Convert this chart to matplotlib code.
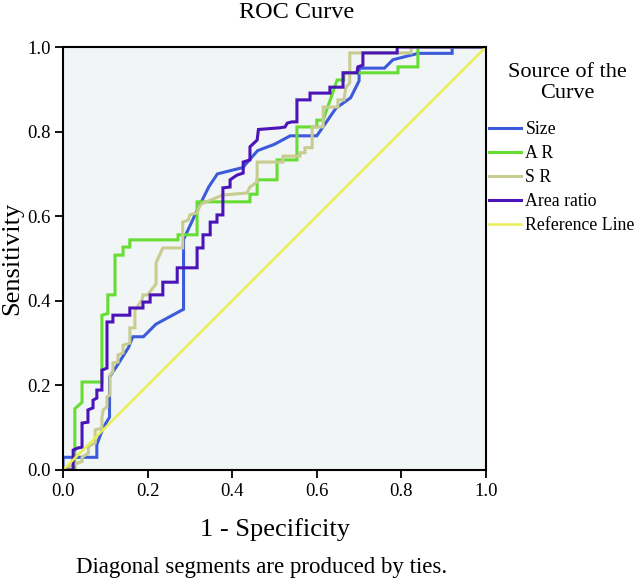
import matplotlib
matplotlib.use("Agg")
import matplotlib.pyplot as plt

plt.rcParams['font.family'] = ['Liberation Serif', 'DejaVu Serif']

# ---- data ----
size_pts = [(0, 0), (0, 0.03), (0.08, 0.03), (0.08, 0.06), (0.095, 0.10), (0.11, 0.125),
            (0.11, 0.22), (0.13, 0.25), (0.155, 0.29), (0.165, 0.315), (0.19, 0.315),
            (0.22, 0.345), (0.285, 0.38), (0.285, 0.545), (0.32, 0.62), (0.345, 0.67),
            (0.365, 0.70), (0.425, 0.715), (0.46, 0.755), (0.50, 0.77), (0.537, 0.79),
            (0.60, 0.79), (0.645, 0.855), (0.68, 0.88), (0.70, 0.92), (0.70, 0.95),
            (0.76, 0.95), (0.78, 0.97), (0.84, 0.985), (0.92, 0.985), (0.92, 1.0), (1.0, 1.0)]

ar_pts = [(0, 0), (0.028, 0), (0.028, 0.145), (0.045, 0.16), (0.045, 0.208), (0.092, 0.208),
          (0.092, 0.366), (0.106, 0.37), (0.106, 0.414), (0.123, 0.414), (0.123, 0.508),
          (0.142, 0.508), (0.142, 0.527), (0.158, 0.527), (0.158, 0.544), (0.272, 0.544),
          (0.272, 0.556), (0.317, 0.556), (0.317, 0.634), (0.442, 0.634), (0.442, 0.652),
          (0.459, 0.652), (0.459, 0.686), (0.506, 0.686), (0.506, 0.733), (0.553, 0.733),
          (0.553, 0.811), (0.60, 0.811), (0.60, 0.827), (0.615, 0.827), (0.648, 0.922),
          (0.664, 0.922), (0.664, 0.939), (0.792, 0.939), (0.792, 0.953), (0.839, 0.953),
          (0.839, 1.0), (1.0, 1.0)]

sr_pts = [(0, 0), (0.03, 0.015), (0.045, 0.02), (0.045, 0.03), (0.06, 0.04), (0.06, 0.055),
          (0.076, 0.064), (0.076, 0.095), (0.092, 0.099), (0.092, 0.123), (0.095, 0.142),
          (0.104, 0.149), (0.104, 0.173), (0.111, 0.177), (0.111, 0.225), (0.118, 0.232),
          (0.118, 0.253), (0.13, 0.255), (0.13, 0.272), (0.142, 0.277), (0.142, 0.295),
          (0.158, 0.30), (0.158, 0.336), (0.17, 0.336), (0.17, 0.378), (0.187, 0.402),
          (0.189, 0.414), (0.20, 0.414), (0.22, 0.44), (0.22, 0.49), (0.236, 0.525),
          (0.283, 0.525), (0.283, 0.586), (0.296, 0.591), (0.30, 0.603), (0.317, 0.608),
          (0.324, 0.626), (0.331, 0.631), (0.378, 0.65), (0.435, 0.655), (0.442, 0.669),
          (0.459, 0.681), (0.459, 0.728), (0.52, 0.728), (0.52, 0.742), (0.56, 0.742),
          (0.56, 0.75), (0.572, 0.75), (0.572, 0.762), (0.589, 0.762), (0.589, 0.811),
          (0.615, 0.811), (0.615, 0.858), (0.65, 0.858), (0.65, 0.875), (0.664, 0.875),
          (0.669, 0.905), (0.678, 0.915), (0.678, 0.986), (0.823, 0.986), (0.823, 1.0),
          (1.0, 1.0)]

area_pts = [(0, 0), (0.024, 0), (0.024, 0.047), (0.035, 0.052), (0.045, 0.054), (0.045, 0.111),
            (0.059, 0.113), (0.059, 0.142), (0.071, 0.147), (0.071, 0.165), (0.08, 0.17),
            (0.08, 0.189), (0.092, 0.189), (0.092, 0.236), (0.104, 0.241), (0.104, 0.35),
            (0.118, 0.35), (0.118, 0.366), (0.158, 0.366), (0.158, 0.383), (0.189, 0.383),
            (0.189, 0.397), (0.206, 0.397), (0.206, 0.414), (0.236, 0.414), (0.236, 0.444),
            (0.27, 0.444), (0.27, 0.478), (0.317, 0.478), (0.317, 0.525), (0.331, 0.525),
            (0.331, 0.556), (0.348, 0.556), (0.348, 0.586), (0.364, 0.586), (0.364, 0.603),
            (0.378, 0.603), (0.378, 0.667), (0.395, 0.669), (0.395, 0.686), (0.411, 0.697),
            (0.426, 0.702), (0.426, 0.728), (0.442, 0.733), (0.442, 0.764), (0.459, 0.78),
            (0.462, 0.805), (0.513, 0.809), (0.525, 0.811), (0.53, 0.82), (0.541, 0.823),
            (0.553, 0.823), (0.553, 0.875), (0.584, 0.875), (0.584, 0.891), (0.631, 0.891),
            (0.631, 0.905), (0.662, 0.905), (0.662, 0.939), (0.695, 0.939), (0.697, 0.953),
            (0.709, 0.957), (0.709, 0.986), (0.79, 0.986), (0.79, 1.0), (1.0, 1.0)]

ref_pts = [(0, 0), (1, 1)]

series_labels = ["Size", "A R", "S R", "Area ratio", "Reference Line"]
series_colors = ["#3B5BDB", "#66DD33", "#C8CC90", "#4A14B8", "#E8EE55"]
tick_values = [0.0, 0.2, 0.4, 0.6, 0.8, 1.0]
tick_labels = ["0.0", "0.2", "0.4", "0.6", "0.8", "1.0"]

# ---- figure ----
fig = plt.figure(figsize=(6.4, 5.79), dpi=100)
ax = fig.add_axes([63/640, 1-470/579, 423/640, 423/579])
ax.set_facecolor("#F1F5F5")

all_series = [size_pts, ar_pts, sr_pts, area_pts, ref_pts]
for pts, lab, col in zip(all_series, series_labels, series_colors):
    xs = [p[0] for p in pts]
    ys = [p[1] for p in pts]
    lw = 1.8 if lab == "Reference Line" else 2.2
    ax.plot(xs, ys, color=col, lw=lw, label=lab, solid_joinstyle='miter')

ax.set_xlim(0, 1)
ax.set_ylim(0, 1)
ax.set_xticks(tick_values)
ax.set_xticklabels(tick_labels)
ax.set_yticks(tick_values)
ax.set_yticklabels(tick_labels)
ax.tick_params(direction='out', length=6, width=1.3, color='black',
               labelsize=13.5, pad=3)
for sp in ax.spines.values():
    sp.set_linewidth(1.5)
    sp.set_color('black')

fig.text(297/640, 1-12/579, "ROC Curve", ha='center', va='center', fontsize=17.5)
fig.text(275/640, 1-530/579, "1 - Specificity", ha='center', va='center', fontsize=19)
fig.text(12/640, 1-258/579, "Sensitivity", ha='center', va='center', rotation=90, fontsize=19)
fig.text(262/640, 1-568/579, "Diagonal segments are produced by ties.", ha='center',
         va='center', fontsize=16.5)

# legend title
fig.text(567/640, 1-83/579, "Source of the\nCurve", ha='center', va='center',
         fontsize=16, linespacing=1.12)

leg = ax.legend(loc='upper left', bbox_to_anchor=(489/640, 1-121/579),
                bbox_transform=fig.transFigure, frameon=False, fontsize=12.8,
                handlelength=1.8, handletextpad=0.25, labelspacing=0.4,
                borderpad=0, borderaxespad=0)

fig.savefig("out.png", dpi=100)
